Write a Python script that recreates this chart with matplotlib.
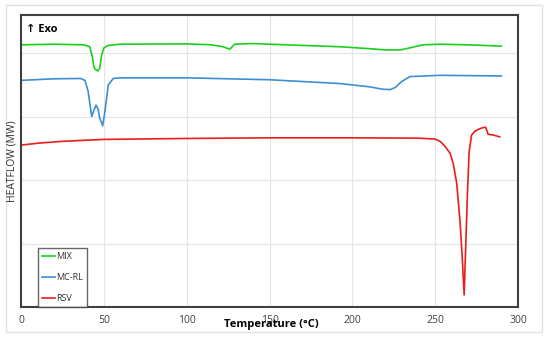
import matplotlib
matplotlib.use("Agg")
import matplotlib.pyplot as plt
from matplotlib.patches import Rectangle

plt.rcParams['font.family'] = ['Open Sans', 'DejaVu Sans']

# DSC curves (temperature in C, heat flow in arbitrary units)
mix_t = [0, 20, 38, 41.5, 43, 44, 45, 46.5, 47.5, 48.7, 50, 52.5, 60, 100, 115, 122,
         126, 129, 140, 160, 192.5, 210, 220, 229, 236, 242.6, 253, 270, 290]
mix_v = [4.13, 4.14, 4.13, 4.10, 3.95, 3.78, 3.74, 3.72, 3.76, 3.97, 4.08, 4.12, 4.14,
         4.145, 4.13, 4.10, 4.06, 4.14, 4.15, 4.13, 4.10, 4.07, 4.05, 4.05, 4.09, 4.13,
         4.14, 4.13, 4.11]

mcrl_t = [0, 20, 36, 38.6, 40.5, 42.7, 44, 45.3, 46.5, 47.5, 49.3, 50.5, 52.7, 55.7, 60,
          100, 150, 192.5, 210, 218.5, 223, 226, 229.7, 234.8, 253, 270, 290]
mcrl_v = [3.57, 3.595, 3.60, 3.57, 3.40, 3.00, 3.10, 3.18, 3.12, 2.98, 2.855, 3.05, 3.50,
          3.60, 3.61, 3.61, 3.58, 3.52, 3.47, 3.43, 3.425, 3.46, 3.55, 3.63, 3.65, 3.645,
          3.64]

rsv_t = [0, 10, 25, 50, 100, 150, 200, 240, 250, 253, 256, 259, 261, 263, 265, 266.3,
         267.5, 268.5, 269.5, 270.5, 272, 274, 277, 279.5, 280.5, 282, 285, 289]
rsv_v = [2.55, 2.58, 2.61, 2.64, 2.655, 2.665, 2.665, 2.66, 2.645, 2.61, 2.53, 2.42, 2.25,
         1.95, 1.35, 0.8, 0.19, 1.0, 1.8, 2.45, 2.71, 2.77, 2.81, 2.83, 2.83, 2.72, 2.71,
         2.68]

x_ticks = [0, 50, 100, 150, 200, 250, 300]
y_grid = [1, 2, 3, 4]

fig = plt.figure(figsize=(5.5, 3.41), dpi=100)
fig.patches.append(Rectangle((6 / 550, 1 - 332 / 341), 536 / 550, 327 / 341,
                             transform=fig.transFigure, fill=False,
                             edgecolor='#e2e2e2', linewidth=1))

ax = fig.add_axes([21 / 550, 1 - 307 / 341, 497 / 550, 292 / 341])
ax.plot(mix_t, mix_v, color='#19d119', lw=1.2, label='MIX')
ax.plot(mcrl_t, mcrl_v, color='#3d8fd1', lw=1.2, label='MC-RL')
ax.plot(rsv_t, rsv_v, color='#ee1c1c', lw=1.2, label='RSV')

ax.set_xlim(0, 300)
ax.set_ylim(0, 4.6)
ax.set_xticks(x_ticks)
ax.set_yticks(y_grid)
ax.set_yticklabels([])
ax.grid(True, color='#e4e4e4', lw=0.8)
ax.set_axisbelow(True)
ax.tick_params(length=0, pad=6, labelsize=7.5, labelcolor='#404040')
for s in ax.spines.values():
    s.set_color('#404040')
    s.set_linewidth(1.5)

fig.text(12 / 550, 1 - 161 / 341, 'HEATFLOW (MW)', rotation=90, ha='center',
         va='center', fontsize=7.5, color='#303030')
fig.text(271 / 550, 1 - 325 / 341, 'Temperature (°C)', ha='center', va='center',
         fontsize=8, fontweight='bold')
ax.text(0.011, 0.95, '↑ Exo', transform=ax.transAxes, fontsize=8, fontweight='bold',
        va='center', ha='left')

leg = ax.legend(loc='lower left', bbox_to_anchor=(0.034, 0.0), fontsize=6.5,
                frameon=True, fancybox=False, handlelength=1.5, handletextpad=0.15,
                labelspacing=1.35, borderpad=0.4, borderaxespad=0)
leg.get_frame().set_edgecolor('#404040')
leg.get_frame().set_linewidth(1.0)
for t in leg.get_texts():
    t.set_color('#303030')

fig.savefig('out.png', dpi=100)
